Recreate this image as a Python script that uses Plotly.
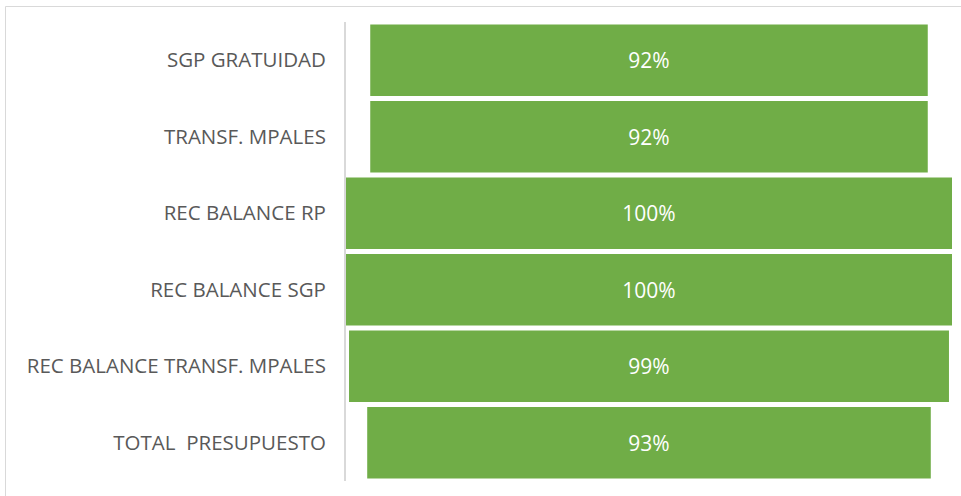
import plotly.graph_objects as go

categories = ["SGP GRATUIDAD", "TRANSF. MPALES", "REC BALANCE RP",
              "REC BALANCE SGP", "REC BALANCE TRANSF. MPALES", "TOTAL  PRESUPUESTO"]
values = [92, 92, 100, 100, 99, 93]
labels = ["92%", "92%", "100%", "100%", "99%", "93%"]

fig = go.Figure(go.Funnel(
    y=categories,
    x=values,
    text=labels,
    textinfo="text",
    textposition="inside",
    insidetextanchor="middle",
    textfont=dict(color="white", size=21, family="Open Sans"),
    marker=dict(color="#70AD47", line=dict(width=0)),
    connector=dict(visible=False),
    hoverinfo="skip",
))

W, H = 961, 496
ml, mr, mt, mb = 346, 9, 22, 15
pw, ph = W - ml - mr, H - mt - mb

def px_x(x):
    return (x - ml) / pw

def px_y(y):
    return (H - mb - y) / ph

fig.update_layout(
    width=W, height=H,
    margin=dict(l=ml, r=mr, t=mt, b=mb),
    paper_bgcolor="white",
    plot_bgcolor="white",
    funnelgap=0.066,
    showlegend=False,
    xaxis=dict(visible=False, range=[-50, 50], fixedrange=True),
    yaxis=dict(
        showline=True, linecolor="#D9D9D9", linewidth=2,
        showgrid=False, ticks="", ticklabelstandoff=14, fixedrange=True,
        tickfont=dict(color="#595959", size=20.5, family="Open Sans"),
    ),
    font=dict(family="Open Sans"),
    shapes=[dict(
        type="rect", xref="paper", yref="paper",
        x0=px_x(5.5), x1=px_x(970), y0=px_y(505), y1=px_y(6.5),
        line=dict(color="#D9D9D9", width=1), fillcolor="rgba(0,0,0,0)",
        layer="below",
    )],
)

fig.write_html(
    "out.html",
    config={"displayModeBar": False},
    post_script="document.body.style.margin='0';document.body.style.overflow='hidden';",
)
